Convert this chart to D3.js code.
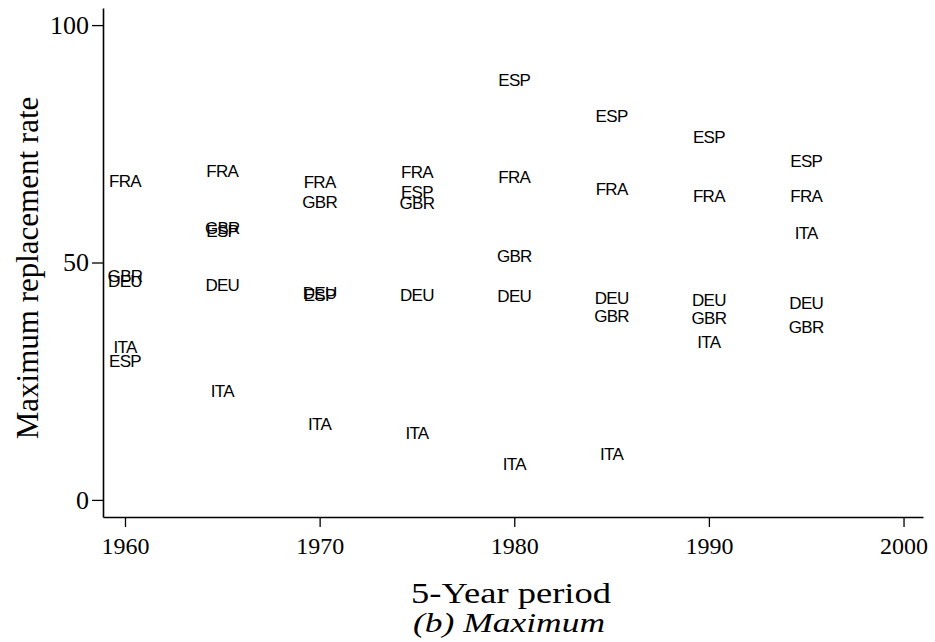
<!DOCTYPE html>
<html>
<head>
<meta charset="utf-8">
<script src="https://cdn.jsdelivr.net/npm/d3@7"></script>
<style>
  html, body { margin: 0; padding: 0; background: #fff; }
  svg { display: block; }
</style>
</head>
<body>
<svg id="chart" width="935" height="642"></svg>
<script>
// Maximum replacement rate by 5-year period, country codes as markers

const years = [1960, 1965, 1970, 1975, 1980, 1985, 1990, 1995];

const FRA = [67.2, 69.3, 67.0, 69.0, 68.0, 65.5, 64.0, 64.0];
const ESP = [29.3, 56.6, 43.2, 64.8, 88.4, 80.8, 76.4, 71.4];
const GBR = [47.2, 57.3, 62.7, 62.5, 51.4, 38.7, 38.3, 36.4];
const DEU = [46.1, 45.3, 43.6, 43.2, 42.9, 42.5, 42.1, 41.5];
const ITA = [32.2, 22.9, 16.0, 14.1, 7.6, 9.7, 33.3, 56.2];

const countries = ["FRA", "ESP", "GBR", "DEU", "ITA"];
const seriesVals = { FRA, ESP, GBR, DEU, ITA };

const xTicks = [1960, 1970, 1980, 1990, 2000];
const yTicks = [0, 50, 100];

// Layout -----------------------------------------------------------
const svg = d3.select("#chart");
const plotL = 103, plotR = 923, plotT = 8, plotB = 517;

const x = d3.scaleLinear().domain([1958.87, 2001.0]).range([plotL, plotR]);
const y = d3.scaleLinear().domain([-3.6, 103.6]).range([plotB, plotT]);

const serif = "'Liberation Serif', 'Times New Roman', serif";
const sans  = "'Liberation Sans', Arial, sans-serif";

// Axes -------------------------------------------------------------
const xAxis = svg.append("g")
  .attr("transform", `translate(0,${plotB})`)
  .call(d3.axisBottom(x).tickValues(xTicks).tickFormat(d3.format("d"))
          .tickSize(10).tickSizeOuter(0).tickPadding(10));

const yAxis = svg.append("g")
  .attr("transform", `translate(${plotL},0)`)
  .call(d3.axisLeft(y).tickValues(yTicks).tickSize(11).tickSizeOuter(0).tickPadding(3));

[xAxis, yAxis].forEach(g => {
  g.select(".domain").attr("stroke", "#000").attr("stroke-width", 1.6);
  g.selectAll(".tick line").attr("stroke", "#000").attr("stroke-width", 1.3);
  g.selectAll(".tick text")
    .attr("fill", "#000")
    .style("font-family", serif);
});
xAxis.selectAll(".tick text").style("font-size", "24px");
yAxis.selectAll(".tick text").style("font-size", "26px");

// Labels as markers ------------------------------------------------
const points = [];
countries.forEach(c => {
  years.forEach((yr, i) => points.push({ c, yr, v: seriesVals[c][i] }));
});

svg.append("g").selectAll("text")
  .data(points)
  .join("text")
    .attr("x", d => x(d.yr))
    .attr("y", d => y(d.v))
    .attr("dy", "0.36em")
    .attr("text-anchor", "middle")
    .style("font-family", sans)
    .style("font-size", "17px")
    .style("letter-spacing", "-0.7px")
    .attr("fill", "#000")
    .text(d => d.c);

// Titles -----------------------------------------------------------
svg.append("text")
  .attr("x", 511)
  .attr("y", 603)
  .attr("text-anchor", "middle")
  .attr("textLength", 200)
  .attr("lengthAdjust", "spacingAndGlyphs")
  .style("font-family", serif)
  .style("font-size", "29px")
  .text("5-Year period");

svg.append("text")
  .attr("x", 509)
  .attr("y", 632)
  .attr("text-anchor", "middle")
  .attr("textLength", 192)
  .attr("lengthAdjust", "spacingAndGlyphs")
  .style("font-family", serif)
  .style("font-style", "italic")
  .style("font-size", "28px")
  .text("(b) Maximum");

svg.append("text")
  .attr("transform", `translate(38,268) rotate(-90)`)
  .attr("text-anchor", "middle")
  .style("font-family", serif)
  .style("font-size", "31px")
  .text("Maximum replacement rate");
</script>
</body>
</html>
